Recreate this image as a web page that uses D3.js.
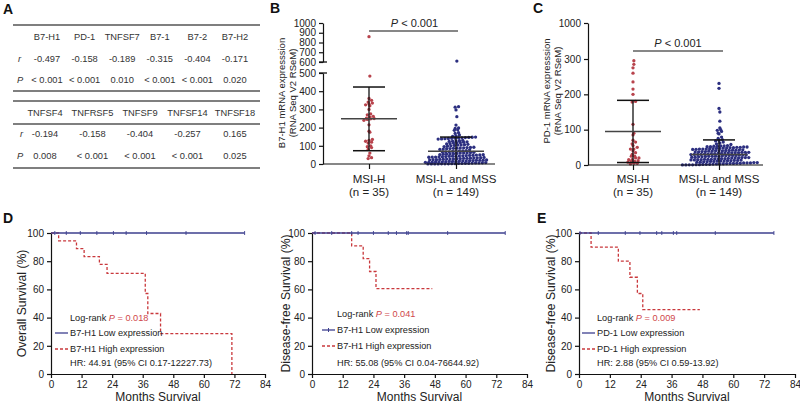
<!DOCTYPE html>
<html>
<head>
<meta charset="utf-8">
<script src="https://cdn.jsdelivr.net/npm/d3@7"></script>
<style>
  body { margin: 0; background: #fff; }
  svg { display: block; font-family: "Liberation Sans", Arial, sans-serif; }
</style>
</head>
<body>
<div id="wrapper"></div>
<script>
// ---------- data ----------
// panel A: correlation table
const tableCols1 = ["B7-H1", "PD-1", "TNFSF7", "B7-1", "B7-2", "B7-H2"]
const tableR1 = ["-0.497", "-0.158", "-0.189", "-0.315", "-0.404", "-0.171"]
const tableP1 = ["< 0.001", "< 0.001", "0.010", "< 0.001", "< 0.001", "0.020"]
const tableCols2 = ["TNFSF4", "TNFRSF5", "TNFSF9", "TNFSF14", "TNFSF18"]
const tableR2 = ["-0.194", "-0.158", "-0.404", "-0.257", "0.165"]
const tableP2 = ["0.008", "< 0.001", "< 0.001", "< 0.001", "0.025"]

// panels B and C: dot plots
const groups = ["MSI-H", "MSI-L and MSS"]
const groupN = ["(n = 35)", "(n = 149)"]

const b7h1MsiH = [860, 483, 360, 350, 340, 335, 330, 325, 320, 300, 275, 270, 262, 258, 252,
  250, 248, 245, 240, 215, 180, 175, 135, 130, 125, 120, 115, 100, 95, 90, 80, 60, 45, 35, 30]
const b7h1MsiL = [610, 315, 312, 297, 260,
  214, 198, 195, 188, 185, 172, 168, 160, 155, 152,
  148, 147, 146, 145, 144, 143, 142, 141, 140, 139, 138, 137,
  130, 128, 126, 125, 124, 122, 120, 118, 116, 115,
  112, 110, 108, 106, 105, 104, 102, 100, 98, 96,
  92, 91, 90, 89, 88, 87, 86, 85, 84, 82, 80, 78,
  74, 72, 72, 70, 69, 67, 66, 66, 64, 63, 61, 60, 60, 58, 57, 55, 54, 54, 52, 51,
  50, 49, 48, 47, 46, 45, 44, 43, 43, 42, 41, 40, 39, 38, 38, 37, 36, 35, 34, 33,
  32, 31, 31, 30, 29, 28, 27, 27, 26, 25, 24, 24, 23, 22, 21, 20, 20, 19, 18, 17,
  17, 16, 15, 14, 14, 13, 12, 11, 11, 10, 9, 9, 8, 7, 6, 6, 5, 4, 4, 3,
  3, 2, 2, 1, 1, 1, 0.5, 0.5, 0.3, 0.2]
const b7h1Mean = [248, 70]
const b7h1Sd = [175, 78]
const b7h1TicksLow = [0, 100, 200, 300, 400, 500]
const b7h1TicksHigh = [600, 700, 800, 900, 1000]

const pd1MsiH = [295, 285, 275, 260, 235, 215, 200, 180, 178, 115, 90, 85, 70, 65, 60, 55, 50,
  45, 45, 40, 35, 30, 25, 25, 20, 20, 15, 15, 12, 10, 10, 8, 5, 5, 3]
const pd1MsiL = [231, 217, 160, 150, 124, 105, 100, 98, 95, 90, 88, 79, 75, 72, 70, 68, 65, 62, 60, 58,
  55, 54, 54, 53, 53, 52, 52, 51, 51, 50, 50,
  49, 49, 48, 48, 47, 47, 46, 46, 45, 45, 45, 44.5,
  44, 43, 43, 42, 42, 41, 41, 40, 40, 40, 39.5,
  39, 38, 38, 37, 37, 36, 36, 36, 35, 35, 34.5, 34.5,
  34, 33, 33, 32, 32, 31, 31, 30, 30, 30, 29.5,
  29, 28, 28, 27, 27, 27, 26, 26, 25, 25, 24.5, 24.5,
  24, 23, 23, 22, 22, 21, 21, 21, 20, 20, 19.5,
  19, 18, 18, 17, 17, 16, 16, 16, 15, 15, 14.5, 14.5,
  14, 13, 13, 12, 12, 11, 11, 11, 10, 10, 9.5,
  9, 8, 8, 7, 7, 6, 6, 6, 5, 5, 4.5, 4.5,
  4, 3.5, 3, 3, 2.5, 2, 2, 1.5, 1, 1, 0.5, 0.5, 0.2, 0.1]
const pd1Mean = [95, 30]
const pd1Sd = [88, 41]
const pd1Ticks = [0, 100, 200, 300, 1000]

// panels D and E: Kaplan-Meier curves
const monthTicks = [0, 12, 24, 36, 48, 60, 72, 84]
const survTicks = [0, 20, 40, 60, 80, 100]

const osLowT = [0, 76]
const osLowS = [100, 100]
const osLowCensor = [1.5, 6, 11.5, 18, 24.5, 29.5, 37.5, 53, 76]
const osHighT = [0, 3, 10, 13, 19, 22, 37, 38, 43, 71]
const osHighS = [100, 94.4, 88.9, 83.3, 77.8, 71.4, 57.1, 42.9, 28.6, 0]

const dfsB7LowT = [0, 75.5]
const dfsB7LowS = [100, 100]
const dfsB7LowCensor = [1.2, 7.7, 15.5, 18, 24, 29.8, 33, 37, 37.6, 53, 75.5]
const dfsB7HighT = [0, 15.5, 20, 22.5, 25, 47]
const dfsB7HighS = [100, 90.9, 81.8, 72.7, 60.6, 60.6]

const dfsPdLowT = [0, 75.8]
const dfsPdLowS = [100, 100]
const dfsPdLowCensor = [0.4, 7.5, 18, 23.7, 30.2, 32.2, 36.7, 38, 53, 75.8]
const dfsPdHighT = [0, 4.7, 15.3, 19.8, 22.7, 24.8, 47]
const dfsPdHighS = [100, 90, 80, 68.6, 57.1, 45.7, 45.7]

// ---------- drawing ----------
const red = "#b8434c"
const blue = "#2c2f80"
const kmRed = "#c9383c"
const kmBlue = "#3d3f8e"
const intFmt = d3.format("d")

const svg = d3.select("#wrapper")
  .append("svg")
    .attr("width", 800)
    .attr("height", 403)

svg.append("rect").attr("width", 800).attr("height", 403).attr("fill", "#fff")

function styleAxis(g, size) {
  g.selectAll("path, line").attr("stroke", "#111").attr("stroke-width", 1.2)
  g.selectAll("text").attr("font-size", size || 10).attr("fill", "#222")
    .attr("font-family", "'Liberation Sans', Arial, sans-serif")
}

// panel letters
const letters = [["A", 3, 14], ["B", 270, 13], ["C", 533, 13], ["D", 3, 223], ["E", 537, 223]]
svg.selectAll(".letter").data(letters).join("text")
  .attr("x", d => d[1]).attr("y", d => d[2])
  .attr("font-size", 14).attr("font-weight", "bold").attr("fill", "#111")
  .text(d => d[0])

// ---- A: table ----
function hline(y) {
  svg.append("line").attr("x1", 13).attr("x2", 260).attr("y1", y).attr("y2", y)
    .attr("stroke", "#555").attr("stroke-width", 1.4)
}

function drawTable(cols, rs, ps, range, yHead, yR, yP, xLab) {
  const x = d3.scalePoint().domain(cols).range(range)
  const g = svg.append("g").attr("font-size", 9.3).attr("fill", "#333").attr("text-anchor", "middle")
  g.selectAll(".h").data(cols).join("text")
    .attr("x", d => x(d)).attr("y", yHead).attr("dy", "0.35em").text(d => d)
  g.selectAll(".r").data(rs).join("text")
    .attr("x", (d, i) => x(cols[i])).attr("y", yR).attr("dy", "0.35em").text(d => d)
  g.selectAll(".p").data(ps).join("text")
    .attr("x", (d, i) => x(cols[i])).attr("y", yP).attr("dy", "0.35em").text(d => d)
  g.append("text").attr("x", xLab).attr("y", yR).attr("dy", "0.35em")
    .attr("font-style", "italic").attr("text-anchor", "start").text("r")
  g.append("text").attr("x", 17).attr("y", yP).attr("dy", "0.35em")
    .attr("font-style", "italic").attr("text-anchor", "start").text("P")
}

hline(25); hline(91)
drawTable(tableCols1, tableR1, tableP1, [47, 235], 37, 59, 80, 18)
hline(101); hline(124); hline(168)
drawTable(tableCols2, tableR2, tableP2, [45, 235], 113, 134, 156, 20)

// ---- B & C: dot plots ----
function swarm(values, y, cx, rowH, gap) {
  const pts = values.map(v => ({ v, py: y(v) }))
  const rows = d3.group(pts, d => Math.round(d.py / rowH))
  const out = []
  for (const [k, row] of rows) {
    row.sort((a, b) => a.v - b.v)
    const n = row.length
    const shift = (k % 2) * gap * 0.25
    row.forEach((p, i) => out.push({ x: cx + (i - (n - 1) / 2) * gap + shift, y: p.py }))
  }
  return out
}

function drawDotPlot(p) {
  const g = svg.append("g")
  const x = d3.scalePoint().domain(groups).range(p.cats)

  // dots
  const sets = [[p.hi, red], [p.lo, blue]]
  sets.forEach(([vals, col], i) => {
    g.append("g").selectAll("circle")
      .data(swarm(vals, p.y, x(groups[i]), 2.6, 3.4))
      .join("circle")
        .attr("cx", d => d.x).attr("cy", d => d.y).attr("r", 1.65)
        .attr("fill", col)
  })

  // mean +- SD
  groups.forEach((gname, i) => {
    const cx = x(gname)
    const m = p.mean[i], s = p.sd[i]
    const top = p.y(m + s), bot = p.y(Math.max(0, m - s))
    g.append("line").attr("x1", cx).attr("x2", cx).attr("y1", top).attr("y2", bot)
      .attr("stroke", "#111").attr("stroke-width", 1.3)
    g.append("line").attr("x1", cx - 16).attr("x2", cx + 16).attr("y1", top).attr("y2", top)
      .attr("stroke", "#111").attr("stroke-width", 1.5)
    if (m - s > 0) {
      g.append("line").attr("x1", cx - 16).attr("x2", cx + 16).attr("y1", bot).attr("y2", bot)
        .attr("stroke", "#111").attr("stroke-width", 1.5)
    }
    g.append("line").attr("x1", cx - 28).attr("x2", cx + 28).attr("y1", p.y(m)).attr("y2", p.y(m))
      .attr("stroke", "#444").attr("stroke-width", 1.5)
  })

  // x axis
  const xa = g.append("g").attr("transform", `translate(0,${p.base})`)
    .call(d3.axisBottom(x).tickSize(5).tickFormat(""))
  xa.select(".domain").remove()
  xa.append("line").attr("x1", p.ax).attr("x2", p.axEnd).attr("y1", 0).attr("y2", 0)
  styleAxis(xa)
  groups.forEach((gname, i) => {
    g.append("text").attr("x", x(gname)).attr("y", 183).attr("text-anchor", "middle")
      .attr("font-size", 11.5).attr("fill", "#222").text(gname)
    g.append("text").attr("x", x(gname)).attr("y", 196).attr("text-anchor", "middle")
      .attr("font-size", 11.5).attr("fill", "#222").text(groupN[i])
  })

  // significance bar
  const mid = (x(groups[0]) + x(groups[1])) / 2
  g.append("line").attr("x1", x(groups[0])).attr("x2", p.barEnd)
    .attr("y1", p.barY).attr("y2", p.barY).attr("stroke", "#111").attr("stroke-width", 1.2)
  const t = g.append("text").attr("x", mid + 2).attr("y", p.barY - 4)
    .attr("text-anchor", "middle").attr("font-size", 11).attr("fill", "#222")
  t.append("tspan").attr("font-style", "italic").text("P")
  t.append("tspan").text(" < 0.001")

  // y title
  const ty = g.append("text").attr("transform", `translate(${p.titleX},${p.titleY}) rotate(-90)`)
    .attr("text-anchor", "middle").attr("font-size", 9.5).attr("fill", "#222")
  ty.append("tspan").attr("x", 0).attr("dy", 0).text(p.title)
  ty.append("tspan").attr("x", 0).attr("dy", 10.5).text("(RNA Seq V2 RSeM)")
  return g
}

// B
const yBlo = d3.scaleLinear().domain([0, 500]).range([164, 73])
const yBhi = d3.scaleLinear().domain([600, 1000]).range([62, 23])
const yB = v => (v > 550 ? yBhi(v) : yBlo(v))

drawDotPlot({
  hi: b7h1MsiH, lo: b7h1MsiL, mean: b7h1Mean, sd: b7h1Sd, y: yB,
  cats: [369, 456], base: 164, ax: 323, axEnd: 495, barY: 31, barEnd: 458,
  title: "B7-H1 mRNA expresssion", titleX: 285, titleY: 93
})
const yaB1 = svg.append("g").attr("transform", "translate(323,0)")
  .call(d3.axisLeft(yBlo).tickValues(b7h1TicksLow).tickFormat(intFmt).tickSize(4).tickSizeOuter(0))
styleAxis(yaB1)
const yaB2 = svg.append("g").attr("transform", "translate(323,0)")
  .call(d3.axisLeft(yBhi).tickValues(b7h1TicksHigh).tickFormat(intFmt).tickSize(4).tickSizeOuter(0))
styleAxis(yaB2)
// axis break marks
;[yBhi(600), yBlo(500)].forEach(yy => {
  svg.append("line").attr("x1", 319).attr("x2", 327).attr("y1", yy).attr("y2", yy)
    .attr("stroke", "#111").attr("stroke-width", 1.3)
})

// C
const yC = d3.scaleLinear().domain([0, 300, 1000]).range([165, 59, 23])
drawDotPlot({
  hi: pd1MsiH, lo: pd1MsiL, mean: pd1Mean, sd: pd1Sd, y: yC,
  cats: [633, 719], base: 165, ax: 588, axEnd: 763, barY: 51, barEnd: 723,
  title: "PD-1 mRNA expresssion", titleX: 550, titleY: 91
})
const yaC = svg.append("g").attr("transform", "translate(588,0)")
  .call(d3.axisLeft(yC).tickValues(pd1Ticks).tickFormat(intFmt).tickSize(4).tickSizeOuter(0))
styleAxis(yaC)

// ---- D & E: survival curves ----
function drawKM(p) {
  const x = d3.scaleLinear().domain([0, 84]).range([p.x0, p.x1])
  const y = d3.scaleLinear().domain([0, 100]).range([374, 233])
  const g = svg.append("g")

  const xa = g.append("g").attr("transform", "translate(0,374)")
    .call(d3.axisBottom(x).tickValues(monthTicks).tickSize(4).tickSizeOuter(0))
  styleAxis(xa)
  const ya = g.append("g").attr("transform", `translate(${p.x0},0)`)
    .call(d3.axisLeft(y).tickValues(survTicks).tickSize(4).tickSizeOuter(0))
  styleAxis(ya)

  const line = d3.line().x(d => x(d[0])).y(d => y(d[1])).curve(d3.curveStepAfter)
  g.append("path").attr("d", line(d3.zip(p.highT, p.highS)))
    .attr("fill", "none").attr("stroke", kmRed).attr("stroke-width", 1.3)
    .attr("stroke-dasharray", "3,2")
  g.append("path").attr("d", line(d3.zip(p.lowT, p.lowS)))
    .attr("fill", "none").attr("stroke", kmBlue).attr("stroke-width", 1.3)
  g.selectAll(".cens").data(p.censor).join("line")
    .attr("x1", d => x(d)).attr("x2", d => x(d))
    .attr("y1", y(100) - 2).attr("y2", y(100) + 2)
    .attr("stroke", kmBlue).attr("stroke-width", 0.9)

  // titles
  g.append("text").attr("transform", `translate(${p.titleX},${(374 + 233) / 2}) rotate(-90)`)
    .attr("text-anchor", "middle").attr("dy", "0.35em").attr("font-size", 12.2).attr("fill", "#222")
    .text(p.title)
  g.append("text").attr("x", (p.x0 + p.x1) / 2).attr("y", 401)
    .attr("text-anchor", "middle").attr("font-size", 12).attr("fill", "#222")
    .text("Months Survival")

  // legend
  const lx = p.legX, lf = 9.2
  const lr = g.append("text").attr("x", lx).attr("y", p.legY[0]).attr("dy", "0.35em")
    .attr("font-size", lf).attr("fill", "#222")
  lr.append("tspan").text("Log-rank ")
  lr.append("tspan").attr("fill", "#d0474a").attr("font-style", "italic").text("P")
  lr.append("tspan").attr("fill", "#d0474a").text(" = " + p.pval)

  g.append("line").attr("x1", lx - 15).attr("x2", lx - 2).attr("y1", p.legY[1]).attr("y2", p.legY[1])
    .attr("stroke", kmBlue).attr("stroke-width", 1.3)
  if (p.legTick) {
    g.append("line").attr("x1", lx - 8.5).attr("x2", lx - 8.5)
      .attr("y1", p.legY[1] - 2).attr("y2", p.legY[1] + 2).attr("stroke", kmBlue)
  }
  g.append("text").attr("x", lx).attr("y", p.legY[1]).attr("dy", "0.35em")
    .attr("font-size", lf).attr("fill", "#222").text(p.gene + " Low expression")
  g.append("line").attr("x1", lx - 15).attr("x2", lx - 2).attr("y1", p.legY[2]).attr("y2", p.legY[2])
    .attr("stroke", kmRed).attr("stroke-width", 1.3).attr("stroke-dasharray", "3,2")
  g.append("text").attr("x", lx).attr("y", p.legY[2]).attr("dy", "0.35em")
    .attr("font-size", lf).attr("fill", "#222").text(p.gene + " High expression")
  g.append("text").attr("x", lx).attr("y", p.legY[3]).attr("dy", "0.35em")
    .attr("font-size", lf).attr("fill", "#222").text(p.hr)
}

drawKM({
  x0: 51, x1: 265, title: "Overall Survival (%)", titleX: 22,
  lowT: osLowT, lowS: osLowS, censor: osLowCensor, highT: osHighT, highS: osHighS,
  legX: 70, legY: [318, 333, 349, 363], pval: "0.018", gene: "B7-H1",
  hr: "HR: 44.91 (95% CI 0.17-12227.73)"
})
drawKM({
  x0: 312, x1: 527, title: "Disease-free Survival (%)", titleX: 286,
  lowT: dfsB7LowT, lowS: dfsB7LowS, censor: dfsB7LowCensor, highT: dfsB7HighT, highS: dfsB7HighS,
  legX: 337, legY: [314, 330, 346, 363], pval: "0.041", gene: "B7-H1", legTick: true,
  hr: "HR: 55.08 (95% CI 0.04-76644.92)"
})
drawKM({
  x0: 579, x1: 795, title: "Disease-free Survival (%)", titleX: 551,
  lowT: dfsPdLowT, lowS: dfsPdLowS, censor: dfsPdLowCensor, highT: dfsPdHighT, highS: dfsPdHighS,
  legX: 597, legY: [318, 333, 349, 363], pval: "0.009", gene: "PD-1",
  hr: "HR: 2.88 (95% CI 0.59-13.92)"
})
</script>
</body>
</html>
